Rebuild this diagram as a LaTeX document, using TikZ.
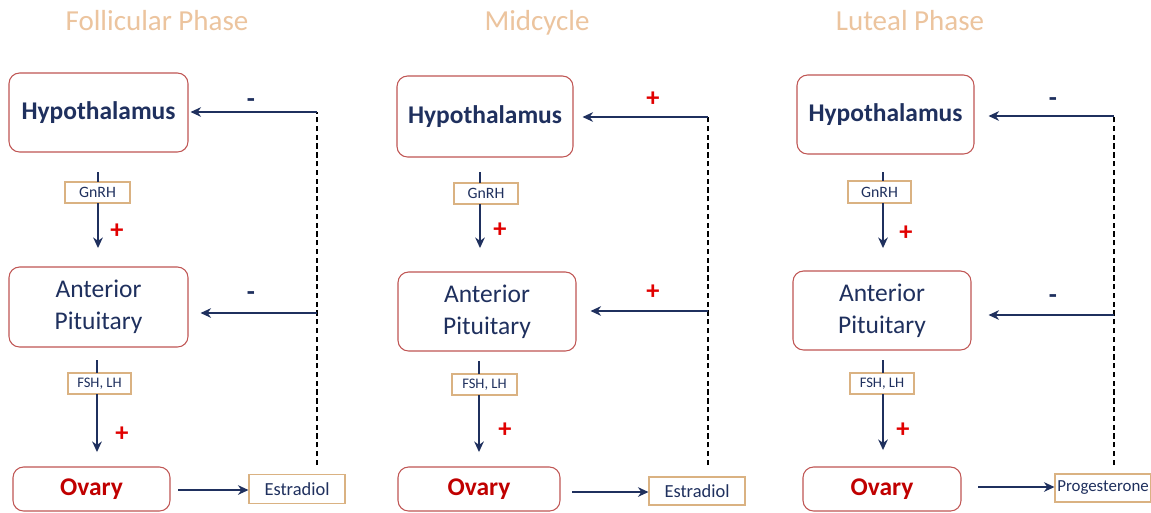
\documentclass[tikz,border=0pt]{standalone}
\usepackage{fontspec}
\setmainfont{Carlito}
\usetikzlibrary{arrows.meta}
\definecolor{navy}{RGB}{31,48,94}
\definecolor{boxred}{RGB}{192,86,84}
\definecolor{titletan}{RGB}{236,196,158}
\definecolor{tagline}{RGB}{218,178,130}
\definecolor{plusred}{RGB}{225,0,0}
\definecolor{ovred}{RGB}{192,0,0}
\tikzset{
  big/.style 2 args={draw=boxred, rounded corners=6pt, line width=0.6pt,
    minimum width=#1*0.02cm, minimum height=#2*0.02cm, inner sep=0pt,
    align=center, text=navy, font=\fontsize{14.5}{18}\selectfont},
  bigbold/.style={font=\fontsize{14.5}{18}\selectfont\bfseries},
  ovary/.style={font=\fontsize{14.5}{18}\selectfont\bfseries, text=ovred},
  tag/.style 2 args={draw=tagline, line width=0.6pt, fill=white, text=navy,
    minimum width=#1*0.02cm, minimum height=#2*0.02cm, inner sep=0pt,
    font=\fontsize{9}{10}\selectfont},
  fsz/.style={font=\fontsize{#1}{#1}\selectfont},
  title/.style={text=titletan, anchor=base, font=\fontsize{16.5}{20}\selectfont},
  flow/.style={draw=navy, line width=0.8pt, -{Stealth[length=6pt,width=5.5pt]}},
  stem/.style={draw=navy, line width=0.8pt},
  fb/.style={draw=black, line width=0.6pt, dash pattern=on 3pt off 2pt},
  plus/.style={text=plusred, font=\fontsize{15}{18}\selectfont\bfseries},
  minus/.style={text=navy, font=\fontsize{15}{18}\selectfont\bfseries},
}
\begin{document}
\begin{tikzpicture}[x=0.02cm,y=-0.02cm]
\useasboundingbox (0,0) rectangle (1151,512);
\fill[white] (0,0) rectangle (1151,512);

% ---------- Panel 1: Follicular ----------
\node[title] (t1) at (157,30) {Follicular Phase};
\node[big={179}{79}, bigbold] (h1) at (98.5,112.5) {Hypothalamus};
\node[tag={65}{21}] (g1) at (97.5,192.5) {GnRH};
\node[big={179}{80}] (a1) at (98.5,307) {Anterior\\Pituitary};
\node[tag={63}{21}, fsz=8.3] (f1) at (99.5,383.5) {FSH, LH};
\node[big={157}{44}, ovary] (o1) at (91.5,489) {Ovary};
\node[tag={96}{29}, fsz=10.5] (e1) at (297,489) {Estradiol};
\coordinate (d1t) at (317,112);
\coordinate (d1m) at (317,313);
\coordinate (d1b) at (317,465);
\draw[stem] (98,172) -- (98,182);
\draw[flow] (98,203) -- (98,248);
\draw[stem] (97,360) -- (97,373);
\draw[flow] (97,394) -- (97,452);
\draw[flow] (178,490) -- (e1.west |- 0,490);
\draw[fb] (d1b) -- (d1t);
\draw[flow] (d1t) -- ([xshift=2*0.02cm]h1.east |- d1t);
\draw[flow] (d1m) -- ([xshift=12*0.02cm]a1.east |- d1m);
\node[minus] (m1a) at (251,103) {-};
\node[minus] (m1b) at (251,296) {-};
\node[plus] (p1a) at (117,231) {+};
\node[plus] (p1b) at (122,434) {+};

% ---------- Panel 2: Midcycle ----------
\node[title] (t2) at (537,30) {Midcycle};
\node[big={176}{81}, bigbold] (h2) at (485,116.5) {Hypothalamus};
\node[tag={64}{21}] (g2) at (486,193.5) {GnRH};
\node[big={178}{79}] (a2) at (487,311.5) {Anterior\\Pituitary};
\node[tag={65}{21}, fsz=8.3] (f2) at (484.5,384.5) {FSH, LH};
\node[big={162}{44}, ovary] (o2) at (479,489) {Ovary};
\node[tag={96}{28}, fsz=10.5] (e2) at (697,491) {Estradiol};
\coordinate (d2t) at (708,117);
\coordinate (d2m) at (708,311);
\coordinate (d2b) at (708,465);
\draw[stem] (480,172) -- (480,183);
\draw[flow] (480,204) -- (480,248);
\draw[stem] (479,361) -- (479,374);
\draw[flow] (479,395) -- (479,452);
\draw[flow] (572,492) -- (e2.west |- 0,492);
\draw[fb] (d2b) -- (d2t);
\draw[flow] (d2t) -- ([xshift=9*0.02cm]h2.east |- d2t);
\draw[flow] (d2m) -- ([xshift=14*0.02cm]a2.east |- d2m);
\node[plus] (p2a) at (653,99) {+};
\node[plus] (p2b) at (653,292) {+};
\node[plus] (p2c) at (500,230) {+};
\node[plus] (p2d) at (505,430) {+};

% ---------- Panel 3: Luteal ----------
\node[title] (t3) at (910,30) {Luteal Phase};
\node[big={177}{79}, bigbold] (h3) at (885.5,114.5) {Hypothalamus};
\node[tag={63}{22}] (g3) at (879.5,192) {GnRH};
\node[big={178}{79}] (a3) at (882,310.5) {Anterior\\Pituitary};
\node[tag={64}{21}, fsz=8.3] (f3) at (882,383.5) {FSH, LH};
\node[big={158}{44}, ovary] (o3) at (882,489) {Ovary};
\node[tag={96}{28}, fsz=9.6] (pr3) at (1103,488) {Progesterone};
\coordinate (d3t) at (1114,116);
\coordinate (d3m) at (1114,315);
\coordinate (d3b) at (1114,465);
\draw[stem] (883,172) -- (883,181);
\draw[flow] (883,203) -- (883,248);
\draw[stem] (883,360) -- (883,373);
\draw[flow] (883,394) -- (883,450);
\draw[flow] (978,487) -- (pr3.west |- 0,487);
\draw[fb] (d3b) -- (d3t);
\draw[flow] (d3t) -- ([xshift=14*0.02cm]h3.east |- d3t);
\draw[flow] (d3m) -- ([xshift=17*0.02cm]a3.east |- d3m);
\node[minus] (m3a) at (1053,102) {-};
\node[minus] (m3b) at (1053,299) {-};
\node[plus] (p3a) at (906,233) {+};
\node[plus] (p3b) at (903,430) {+};
\end{tikzpicture}
\end{document}
